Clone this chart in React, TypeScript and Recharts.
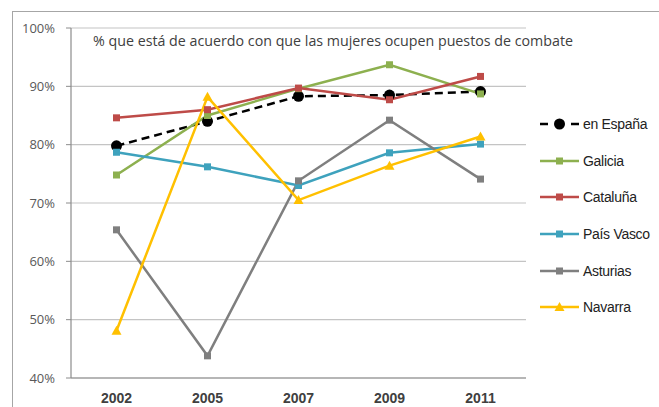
import { CartesianGrid, Line, LineChart, XAxis, YAxis } from "recharts"

const years = ["2002", "2005", "2007", "2009", "2011"]
const espana = [79.8, 84.0, 88.3, 88.5, 89.1]
const galicia = [74.8, 85.0, 89.6, 93.7, 88.7]
const cataluna = [84.6, 86.0, 89.7, 87.7, 91.7]
const paisVasco = [78.7, 76.2, 73.0, 78.6, 80.1]
const asturias = [65.4, 43.8, 73.8, 84.2, 74.1]
const navarra = [48.1, 88.2, 70.5, 76.4, 81.4]
const yTicks = [40, 50, 60, 70, 80, 90, 100]
const boundaryTicks = [0, 1, 2, 3, 4, 5]

const title = "% que está de acuerdo con que las mujeres ocupen puestos de combate"

type Shape = "circle" | "square" | "triangle"

const series: { key: string; name: string; values: number[]; color: string; shape: Shape; dashed?: boolean }[] = [
  { key: "espana", name: "en España", values: espana, color: "#000000", shape: "circle", dashed: true },
  { key: "galicia", name: "Galicia", values: galicia, color: "#8db04f", shape: "square" },
  { key: "cataluna", name: "Cataluña", values: cataluna, color: "#be4b48", shape: "square" },
  { key: "paisVasco", name: "País Vasco", values: paisVasco, color: "#3ea2bd", shape: "square" },
  { key: "asturias", name: "Asturias", values: asturias, color: "#7f7f7f", shape: "square" },
  { key: "navarra", name: "Navarra", values: navarra, color: "#ffc000", shape: "triangle" },
]

const data = years.map((year, i) => {
  const row: Record<string, string | number> = { year }
  series.forEach((s) => {
    row[s.key] = s.values[i]
  })
  return row
})

function Marker({ cx, cy, shape, color }: { cx: number; cy: number; shape: Shape; color: string }) {
  if (shape === "circle") return <circle cx={cx} cy={cy} r={5.5} fill={color} />
  if (shape === "triangle")
    return <polygon points={`${cx},${cy - 5} ${cx + 5},${cy + 4} ${cx - 5},${cy + 4}`} fill={color} />
  return <rect x={cx - 3.5} y={cy - 3.5} width={7} height={7} fill={color} />
}

const makeDot = (shape: Shape, color: string) => (props: any) => (
  <Marker key={props.key ?? props.index} cx={props.cx} cy={props.cy} shape={shape} color={color} />
)

export default function App() {
  return (
    <div style={{ position: "absolute", left: 0, top: 0, width: 659, height: 407, overflow: "hidden", background: "#fff" }}>
      <div
        style={{
          position: "absolute",
          left: 12,
          top: 11,
          width: 700,
          height: 500,
          borderLeft: "1.5px solid #a6a6a6",
          borderTop: "1.5px solid #a6a6a6",
        }}
      />
      <LineChart width={659} height={407} data={data} margin={{ top: 28, right: 133, bottom: 0, left: 11 }}>
        <CartesianGrid horizontal vertical={false} stroke="#c4c4c4" strokeWidth={1.2} />
        {/* boundary ticks between categories, Excel style */}
        <XAxis
          xAxisId={0}
          type="number"
          domain={[0, 5]}
          ticks={boundaryTicks}
          allowDataOverflow
          tick={false}
          axisLine={{ stroke: "#8c8c8c", strokeWidth: 1.2 }}
          tickSize={5}
          tickLine={{ stroke: "#8c8c8c", strokeWidth: 1.2 }}
          height={1}
        />
        <XAxis
          xAxisId="cat"
          dataKey="year"
          scale="band"
          height={28}
          tickLine={false}
          axisLine={false}
          tickSize={0}
          tickMargin={14}
          tick={{ fill: "#404040", fontSize: 14, fontWeight: "bold", fontFamily: "'Liberation Sans', Arial, sans-serif" }}
          interval={0}
        />
        <YAxis
          width={60}
          domain={[40, 100]}
          ticks={yTicks}
          tickFormatter={(v) => `${v}%`}
          axisLine={{ stroke: "#8c8c8c", strokeWidth: 1.2 }}
          tickLine={{ stroke: "#8c8c8c" }}
          tickSize={5}
          tickMargin={11}
          tick={{ fill: "#595959", fontSize: 13, fontFamily: "'Open Sans', 'Noto Sans', sans-serif" }}
        />
        {series.map((s) => (
          <Line
            key={s.key}
            xAxisId="cat"
            dataKey={s.key}
            name={s.name}
            stroke={s.color}
            strokeWidth={2.5}
            strokeDasharray={s.dashed ? "8 5" : undefined}
            dot={makeDot(s.shape, s.color)}
            activeDot={false}
            isAnimationActive={false}
          />
        ))}
      </LineChart>
      <svg style={{ position: "absolute", left: 0, top: 0 }} width={659} height={407} pointerEvents="none">
        <text
          x={93}
          y={46}
          textLength={480}
          lengthAdjust="spacingAndGlyphs"
          fill="#404040"
          fontSize={14}
          fontFamily="'Open Sans', 'Noto Sans', sans-serif"
        >
          {title}
        </text>
      </svg>
      <div style={{ position: "absolute", left: 540, top: 106 }}>
        {series.map((s) => (
          <div key={s.key} style={{ display: "flex", alignItems: "center", height: 36.6 }}>
            <svg width={40} height={12} style={{ flex: "none" }}>
              {s.dashed ? (
                <>
                  <line x1={0} y1={6} x2={8} y2={6} stroke={s.color} strokeWidth={2.5} />
                  <line x1={31} y1={6} x2={39} y2={6} stroke={s.color} strokeWidth={2.5} />
                </>
              ) : (
                <line x1={0} y1={6} x2={39} y2={6} stroke={s.color} strokeWidth={2.5} />
              )}
              <Marker cx={19.5} cy={6} shape={s.shape} color={s.color} />
            </svg>
            <span
              style={{
                marginLeft: 3,
                fontSize: 14,
                color: "#222",
                fontFamily: "'Liberation Sans Narrow', 'Liberation Sans', Arial, sans-serif",
                letterSpacing: -0.3,
                whiteSpace: "nowrap",
              }}
            >
              {s.name}
            </span>
          </div>
        ))}
      </div>
    </div>
  )
}
